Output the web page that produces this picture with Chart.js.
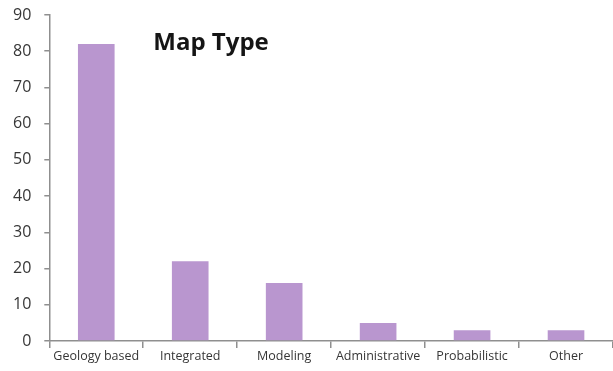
<!DOCTYPE html>
<html>
<head>
<meta charset="utf-8">
<script src="https://cdn.jsdelivr.net/npm/chart.js@4/dist/chart.umd.min.js"></script>
<style>
  html, body { margin: 0; padding: 0; background: #ffffff; }
  #wrap { width: 613px; height: 371px; position: relative; }
</style>
</head>
<body>
<div id="wrap"><canvas id="c"></canvas></div>
<script>
// Survey results: number of maps by map type
const categories = ['Geology based', 'Integrated', 'Modeling', 'Administrative', 'Probabilistic', 'Other'];
const counts = [82, 22, 16, 5, 3, 3];
const yTicks = [0, 10, 20, 30, 40, 50, 60, 70, 80, 90];
const chartTitle = 'Map Type';

const axisColor = '#8f8f8f';
const textColor = '#363636';

// Draws the title inside the plot area, near the top
const innerTitle = {
  id: 'innerTitle',
  afterDraw(chart) {
    const { ctx, chartArea } = chart;
    ctx.save();
    ctx.font = 'bold 24px "Open Sans"';
    ctx.fillStyle = '#151515';
    ctx.textBaseline = 'alphabetic';
    ctx.textAlign = 'left';
    ctx.fillText(chartTitle, chartArea.left + 104, chartArea.top + 35);
    ctx.restore();
  }
};

new Chart(document.getElementById('c'), {
  type: 'bar',
  data: {
    labels: categories,
    datasets: [{
      data: counts,
      backgroundColor: '#b996cf',
      borderWidth: 0,
      categoryPercentage: 1,
      barPercentage: 0.39
    }]
  },
  options: {
    responsive: true,
    maintainAspectRatio: false,
    animation: false,
    layout: { padding: { top: 15, left: 0, right: 0, bottom: 6 } },
    plugins: {
      legend: { display: false },
      tooltip: { enabled: false }
    },
    scales: {
      x: {
        offset: true,
        grid: {
          offset: true,
          drawOnChartArea: false,
          drawTicks: true,
          tickLength: 7,
          color: axisColor,
          lineWidth: 1.5
        },
        border: { display: true, color: axisColor, width: 1.5 },
        ticks: {
          color: textColor,
          font: { family: '"Open Sans"', size: 12.5 },
          padding: 1,
          maxRotation: 0,
          autoSkip: false
        }
      },
      y: {
        min: 0,
        max: 90,
        afterBuildTicks(scale) {
          scale.ticks = yTicks.map(v => ({ value: v }));
        },
        afterFit(scale) {
          // keep the end labels from pushing the plot area inward
          scale.paddingTop = 8;
          scale.paddingBottom = 8;
        },
        grid: {
          drawOnChartArea: false,
          drawTicks: true,
          tickLength: 5,
          color: axisColor,
          lineWidth: 1.5
        },
        border: { display: true, color: axisColor, width: 1.5 },
        ticks: {
          color: textColor,
          font: { family: '"Open Sans"', size: 16 },
          padding: 13
        }
      }
    }
  },
  plugins: [innerTitle]
});
</script>
</body>
</html>
